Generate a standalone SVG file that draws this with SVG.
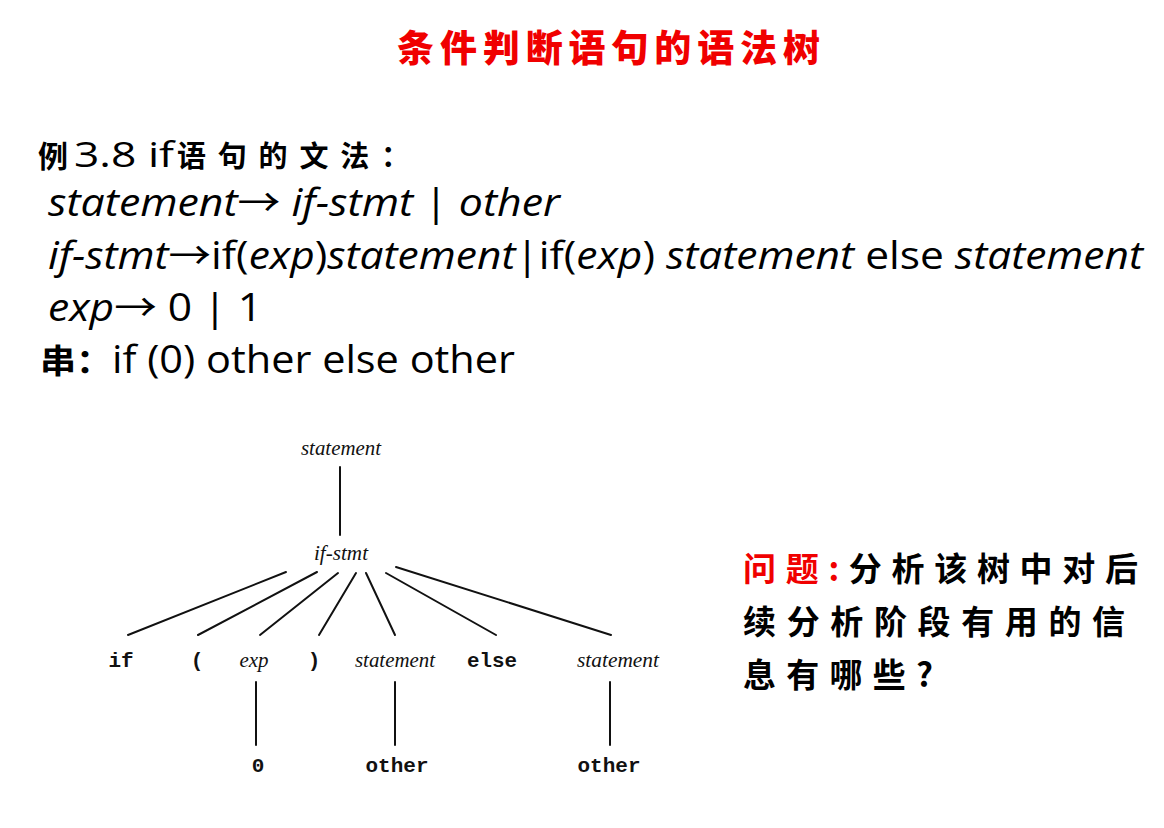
<svg xmlns="http://www.w3.org/2000/svg" width="1164" height="828" viewBox="0 0 1164 828">
  <style>
    .title { font-family: "Noto Sans CJK SC", sans-serif; font-weight: 900; font-size: 37px; fill: #f00000; }
    .cjk { font-family: "Noto Sans CJK SC", sans-serif; font-weight: 700; }
    .gram { font-family: "Open Sans", "Noto Sans CJK SC", sans-serif; font-size: 38px; fill: #000; }
    .it { font-style: italic; }
    .q { font-family: "Noto Sans CJK SC", sans-serif; font-weight: 700; font-size: 33px; fill: #000; }
    .red { fill: #f00000; }
    .nt { font-family: "Liberation Serif", serif; font-style: italic; font-size: 21px; fill: #111; text-anchor: middle; }
    .tk { font-family: "Liberation Mono", monospace; font-weight: 700; font-size: 21px; fill: #111; text-anchor: middle; }
    .edge { stroke: #111; stroke-width: 2; fill: none; stroke-linecap: round; }
  </style>

  <rect width="1164" height="828" fill="#ffffff"/>

  <!-- heading -->
  <text class="title" x="397" y="62" textLength="423" lengthAdjust="spacing">条件判断语句的语法树</text>

  <!-- grammar of the if statement -->
  <g id="grammar">
    <text class="cjk" x="38" y="167" font-size="30" fill="#000">例</text>
    <text x="74" y="167" font-family="Open Sans, sans-serif" font-size="35" fill="#000" textLength="100" lengthAdjust="spacingAndGlyphs">3.8 if</text>
    <text class="cjk" x="177" y="167" font-size="29" fill="#000" textLength="233" lengthAdjust="spacing">语句的文法：</text>
    <text class="gram" x="48" y="216" textLength="512" lengthAdjust="spacingAndGlyphs"><tspan class="it">statement</tspan>→ <tspan class="it">if-stmt</tspan> | <tspan class="it">other</tspan></text>
    <text class="gram" x="48" y="269" textLength="1095" lengthAdjust="spacingAndGlyphs"><tspan class="it">if-stmt</tspan>→if(<tspan class="it">exp</tspan>)<tspan class="it">statement</tspan>|if(<tspan class="it">exp</tspan>) <tspan class="it">statement</tspan> else <tspan class="it">statement</tspan></text>
    <text class="gram" x="48" y="321" textLength="214" lengthAdjust="spacingAndGlyphs"><tspan class="it">exp</tspan>→ 0 | 1</text>
    <text class="gram" x="40" y="373" textLength="475" lengthAdjust="spacingAndGlyphs"><tspan class="cjk" font-size="33">串：</tspan>if (0) other else other</text>
  </g>

  <!-- parse tree edges -->
  <g id="connectors">
    <line class="edge" x1="340" y1="467" x2="340" y2="535"/>
    <line class="edge" x1="286" y1="572" x2="128" y2="635"/>
    <line class="edge" x1="317" y1="572" x2="198" y2="635"/>
    <line class="edge" x1="338" y1="573" x2="260" y2="635"/>
    <line class="edge" x1="356" y1="573" x2="319" y2="635"/>
    <line class="edge" x1="366" y1="573" x2="395" y2="635"/>
    <line class="edge" x1="386" y1="573" x2="496" y2="635"/>
    <line class="edge" x1="396" y1="567" x2="611" y2="635"/>
    <line class="edge" x1="256" y1="682" x2="256" y2="745"/>
    <line class="edge" x1="395" y1="682" x2="395" y2="745"/>
    <line class="edge" x1="610" y1="682" x2="610" y2="745"/>
  </g>

  <!-- parse tree nodes -->
  <g id="n-statement"><text class="nt" x="341" y="455" textLength="80" lengthAdjust="spacingAndGlyphs">statement</text></g>
  <g id="n-ifstmt"><text class="nt" x="341" y="560" textLength="54" lengthAdjust="spacingAndGlyphs">if-stmt</text></g>
  <g id="n-if"><text class="tk" x="121" y="667">if</text></g>
  <g id="n-lparen"><text class="tk" x="197" y="667">(</text></g>
  <g id="n-exp"><text class="nt" x="254" y="667">exp</text></g>
  <g id="n-rparen"><text class="tk" x="314" y="667">)</text></g>
  <g id="n-stmt1"><text class="nt" x="395" y="667" textLength="80" lengthAdjust="spacingAndGlyphs">statement</text></g>
  <g id="n-else"><text class="tk" x="492" y="667" textLength="50" lengthAdjust="spacingAndGlyphs">else</text></g>
  <g id="n-zero"><text class="tk" x="258" y="772">0</text></g>
  <g id="n-stmt2"><text class="nt" x="618" y="667" textLength="82" lengthAdjust="spacingAndGlyphs">statement</text></g>
  <g id="n-other1"><text class="tk" x="397" y="772" textLength="63" lengthAdjust="spacingAndGlyphs">other</text></g>
  <g id="n-other2"><text class="tk" x="609" y="772" textLength="63" lengthAdjust="spacingAndGlyphs">other</text></g>

  <!-- question -->
  <g id="question">
    <text class="q" x="743" y="581" textLength="395" lengthAdjust="spacing"><tspan class="red">问题:</tspan>分析该树中对后</text>
    <text class="q" x="743" y="634" textLength="382" lengthAdjust="spacing">续分析阶段有用的信</text>
    <text class="q" x="743" y="687" textLength="190" lengthAdjust="spacing">息有哪些?</text>
  </g>
</svg>
